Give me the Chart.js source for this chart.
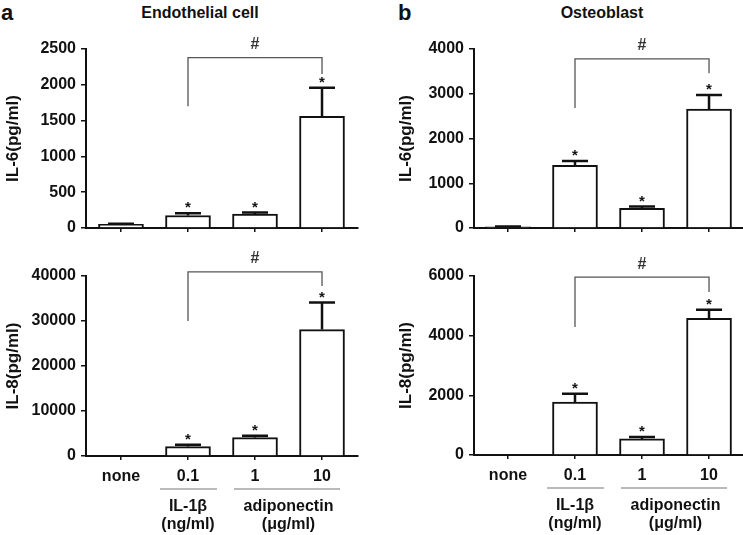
<!DOCTYPE html>
<html>
<head>
<meta charset="utf-8">
<script src="https://cdn.jsdelivr.net/npm/chart.js@4.4.1/dist/chart.umd.min.js"></script>
<style>
  body { margin: 0; background: #fff; width: 743px; height: 535px; position: relative; overflow: hidden;
         font-family: "Liberation Sans", Arial, Helvetica, sans-serif; }
  canvas { position: absolute; }
  .lbl { position: absolute; font-weight: bold; color: #111; white-space: nowrap; }
  .letter { font-size: 22px; line-height: 22px; }
  .title { font-size: 16px; line-height: 16px; width: 200px; text-align: center; }
</style>
</head>
<body>
<div class="lbl letter" style="left:1px;top:2px">a</div>
<div class="lbl letter" style="left:398px;top:2px">b</div>
<div class="lbl title" style="left:100px;top:5px">Endothelial cell</div>
<div class="lbl title" style="left:502px;top:5px">Osteoblast</div>

<canvas id="endoIL6" width="372" height="252" style="left:0;top:0"></canvas>
<canvas id="osteoIL6" width="371" height="252" style="left:372px;top:0"></canvas>
<canvas id="endoIL8" width="372" height="295" style="left:0;top:240px"></canvas>
<canvas id="osteoIL8" width="371" height="295" style="left:372px;top:240px"></canvas>

<script>
// categories and values (mean, SEM)
const categories = ['none', '0.1', '1', '10'];
const starred = [false, true, true, true];

const endoIL6 = [50, 175, 195, 1560];
const endoIL6Err = [10, 30, 20, 400];
const osteoIL6 = [25, 1400, 440, 2660];
const osteoIL6Err = [10, 100, 40, 310];
const endoIL8 = [0, 2100, 4100, 28100];
const endoIL8Err = [0, 400, 400, 6000];
const osteoIL8 = [0, 1770, 540, 4580];
const osteoIL8Err = [0, 280, 60, 290];

const groupLabels = [['IL-1\u03b2', '(ng/ml)'], ['adiponectin', '(\u03bcg/ml)']];

const INK = '#111';
const FONT = '"Liberation Sans", Arial, Helvetica, sans-serif';
Chart.defaults.font.family = FONT;

// one entry per panel; bracket levels are in the panel's data units
const panels = [
  { id: 'endoIL6', values: endoIL6, errors: endoIL6Err, yMax: 2500, yStep: 500, yTitle: 'IL-6(pg/ml)',
    area: { left: 86, top: 49, bottom: 228, right: 358 }, xMin: -0.522, xMax: 3.537, titleX: 13,
    bracket: { left: 1700, right: 2150, top: 2380 }, showCats: false },
  { id: 'osteoIL6', values: osteoIL6, errors: osteoIL6Err, yMax: 4000, yStep: 1000, yTitle: 'IL-6(pg/ml)',
    area: { left: 102, top: 49, bottom: 228, right: 371 }, xMin: -0.507, xMax: 3.507, titleX: 34,
    bracket: { left: 2680, right: 3460, top: 3780 }, showCats: false },
  { id: 'endoIL8', values: endoIL8, errors: endoIL8Err, yMax: 40000, yStep: 10000, yTitle: 'IL-8(pg/ml)',
    area: { left: 86, top: 36, bottom: 216, right: 358 }, xMin: -0.522, xMax: 3.537, titleX: 13,
    bracket: { left: 30000, right: 37800, top: 40900 }, showCats: true },
  { id: 'osteoIL8', values: osteoIL8, errors: osteoIL8Err, yMax: 6000, yStep: 2000, yTitle: 'IL-8(pg/ml)',
    area: { left: 102, top: 36, bottom: 215, right: 371 }, xMin: -0.507, xMax: 3.507, titleX: 34,
    bracket: { left: 4290, right: 5460, top: 5960 }, showCats: true }
];

const decorations = {
  id: 'decorations',
  afterDatasetsDraw(chart, args, opts) {
    const p = opts.panel;
    const ctx = chart.ctx;
    const xs = chart.scales.x, ys = chart.scales.y;
    ctx.save();

    // error bars (upper half only) and asterisks
    p.values.forEach((v, i) => {
      const cx = xs.getPixelForValue(i);
      const top = ys.getPixelForValue(v + p.errors[i]);
      if (p.errors[i]) {
        ctx.strokeStyle = INK;
        ctx.lineWidth = 2.5;
        ctx.beginPath();
        ctx.moveTo(cx, ys.getPixelForValue(v));
        ctx.lineTo(cx, top);
        ctx.moveTo(cx - 13, top);
        ctx.lineTo(cx + 13, top);
        ctx.stroke();
      }
      if (starred[i]) {
        ctx.fillStyle = INK;
        ctx.font = 'bold 15px ' + FONT;
        ctx.textAlign = 'center';
        ctx.textBaseline = 'alphabetic';
        ctx.fillText('*', cx, top - 1);
      }
    });

    // significance bracket between 0.1 and 10
    const b = p.bracket;
    const x1 = xs.getPixelForValue(1), x3 = xs.getPixelForValue(3);
    const yTop = ys.getPixelForValue(b.top);
    ctx.strokeStyle = '#555';
    ctx.lineWidth = 1.3;
    ctx.beginPath();
    ctx.moveTo(x1, ys.getPixelForValue(b.left));
    ctx.lineTo(x1, yTop);
    ctx.lineTo(x3, yTop);
    ctx.lineTo(x3, ys.getPixelForValue(b.right));
    ctx.stroke();
    ctx.fillStyle = '#333';
    ctx.font = 'bold 16px ' + FONT;
    ctx.textAlign = 'center';
    ctx.textBaseline = 'middle';
    ctx.fillText('#', (x1 + x3) / 2, yTop - 13);

    // y axis title
    ctx.save();
    ctx.translate(p.titleX, (ys.top + ys.bottom) / 2);
    ctx.rotate(-Math.PI / 2);
    ctx.fillStyle = INK;
    ctx.font = 'bold 17px ' + FONT;
    ctx.textAlign = 'center';
    ctx.textBaseline = 'middle';
    ctx.fillText(p.yTitle, 0, 0);
    ctx.restore();

    // treatment groups under the category labels
    if (p.showCats) {
      const base = ys.bottom;
      const g1 = xs.getPixelForValue(1);
      const g2 = (xs.getPixelForValue(2) + xs.getPixelForValue(3)) / 2;
      ctx.strokeStyle = '#777';
      ctx.lineWidth = 1.2;
      ctx.beginPath();
      ctx.moveTo(g1 - 28, base + 33);
      ctx.lineTo(g1 + 29, base + 33);
      ctx.moveTo(xs.getPixelForValue(2) - 21, base + 33);
      ctx.lineTo(xs.getPixelForValue(3) + 18, base + 33);
      ctx.stroke();
      ctx.fillStyle = INK;
      ctx.font = 'bold 16px ' + FONT;
      ctx.textAlign = 'center';
      ctx.textBaseline = 'middle';
      [g1, g2].forEach((gx, k) => {
        ctx.fillText(groupLabels[k][0], gx, base + 51);
        ctx.fillText(groupLabels[k][1], gx, base + 69);
      });
    }
    ctx.restore();
  }
};

panels.forEach(p => {
  const canvas = document.getElementById(p.id);
  new Chart(canvas, {
    type: 'bar',
    data: {
      datasets: [{
        data: p.values.map((v, i) => ({ x: i, y: v })),
        backgroundColor: '#fff',
        borderColor: INK,
        borderWidth: 2,
        barThickness: 45
      }]
    },
    options: {
      responsive: false,
      animation: false,
      devicePixelRatio: 1,
      layout: { padding: { top: p.area.top, right: canvas.width - p.area.right, bottom: 0, left: 0 } },
      plugins: { legend: { display: false }, tooltip: { enabled: false }, decorations: { panel: p } },
      scales: {
        x: {
          type: 'linear',
          offset: false,
          min: p.xMin,
          max: p.xMax,
          afterBuildTicks: ax => { ax.ticks = categories.map((c, i) => ({ value: i })); },
          afterFit: ax => { ax.height = canvas.height - p.area.bottom; },
          grid: { drawOnChartArea: false, offset: false, tickLength: 4, color: INK, lineWidth: 1.5 },
          border: { color: INK, width: 2 },
          ticks: {
            display: p.showCats,
            callback: v => categories[v],
            color: INK,
            font: { size: 16, weight: 'bold' },
            padding: 7,
            maxRotation: 0,
            autoSkip: false
          }
        },
        y: {
          min: 0,
          max: p.yMax,
          afterFit: ax => { ax.width = p.area.left; },
          grid: { drawOnChartArea: false, tickLength: 5, color: INK, lineWidth: 1.5 },
          border: { color: INK, width: 2 },
          ticks: { stepSize: p.yStep, color: INK, font: { size: 16, weight: 'bold' }, padding: 5,
                   callback: v => String(v) }
        }
      }
    },
    plugins: [decorations]
  });
});
</script>
</body>
</html>
